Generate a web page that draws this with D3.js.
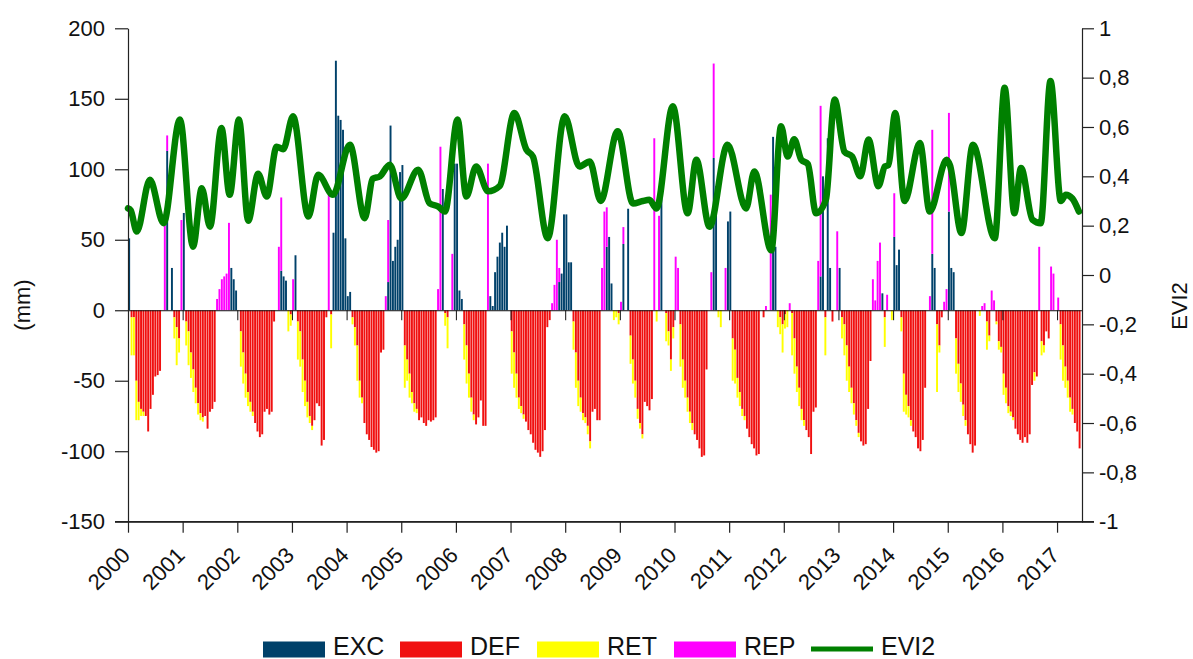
<!DOCTYPE html>
<html><head><meta charset="utf-8">
<script src="https://cdn.jsdelivr.net/npm/d3@7"></script>
<style>
body{margin:0;background:#fff}
svg{display:block}
text{font-family:"Liberation Sans",Arial,sans-serif;fill:#111}
</style>
</head><body>
<svg id="c" width="1193" height="659"></svg>
<script>
// ---------- data (16-day periods, 23 per year, from 2000) ----------
const years = [2000,2001,2002,2003,2004,2005,2006,2007,2008,2009,2010,2011,2012,2013,2014,2015,2016,2017];
const leftTicks = [-150,-100,-50,0,50,100,150,200];
const rightTicks = [-1,-0.8,-0.6,-0.4,-0.2,0,0.2,0.4,0.6,0.8,1];
const periodsPerYear = 23;

const EXC = [
 51, 0,0,0,0,0, 0,0,0,0,0, 0,0,0,0,0, 113,0,30,0,0, 0,0,
 69, 0,0,0,0,0, 0,0,0,0,0, 0,0,0,0,0, 0,0,0,0,30, 22,14,
 0, 0,0,0,0,0, 0,0,0,0,0, 0,0,0,0,0, 0,0,28,24,21, 0,0,
 0, 39,0,0,0,0, 0,0,0,0,0, 0,0,0,0,0, 0,55,177,138,135, 128,51,
 10, 13,0,0,0,0, 0,0,0,0,0, 0,0,0,0,0, 0,20,131,35,45, 50,98,
 103, 0,0,0,0,0, 0,0,0,0,0, 0,0,0,0,0, 0,86,0,0,0, 0,104,
 104, 14,8,0,0,0, 0,0,0,0,0, 0,0,0,10,3, 27,38,48,55,45, 60,0,
 0, 0,0,0,0,0, 0,0,0,0,0, 0,0,0,0,0, 0,0,0,0,20, 26,68,
 68, 34,34,0,0,0, 0,0,0,0,0, 0,0,0,0,0, 0,45,52,19,0, 0,0,
 0, 47,0,72,0,0, 0,0,0,0,0, 0,0,0,0,0, 0,83,0,0,0, 0,0,
 0, 0,0,0,0,0, 0,0,0,0,0, 0,0,0,0,0, 108,88,0,0,0, 0,63,
 70, 0,0,0,0,0, 0,0,0,0,0, 0,0,0,0,0, 0,0,123,45,0, 0,0,
 0, 0,0,0,0,0, 0,0,0,0,0, 0,0,0,0,24, 95,0,122,30,0, 0,0,
 30, 0,0,0,0,0, 0,0,0,0,0, 0,0,0,0,0, 0,0,12,0,0, 0,0,
 52, 32,43,0,0,0, 0,0,0,0,0, 0,0,0,0,0, 40,30,0,0,0, 0,0,
 70, 30,27,0,0,0, 0,0,0,0,0, 0,0,0,0,0, 0,0,0,0,0, 0,0,
 0, 0,0,0,0,0, 0,0,0,0,0, 0,0,0,0,0, 0,0,0,0,0, 0,0,
 0, 0,0,0,0,0, 0,0,0,0
];
const REP = [
 0, 0,0,0,0,0, 0,0,0,0,0, 0,0,0,0,60, 11,0,0,0,0, 0,64,
 0, 0,0,0,0,0, 0,0,0,0,0, 0,0,0,8,15, 22,24,26,62,0, 0,0,
 0, 0,0,0,0,0, 0,0,0,0,0, 0,0,0,0,0, 0,45,52,0,0, 0,0,
 22, 0,0,0,0,0, 0,0,0,0,0, 0,0,0,0,85, 0,0,0,0,0, 0,0,
 0, 0,0,0,0,0, 0,0,0,0,0, 0,0,0,0,0, 10,44,0,0,0, 0,0,
 0, 0,0,0,0,0, 0,0,0,0,0, 0,0,0,0,15, 116,0,0,0,0, 40,0,
 0, 0,0,0,0,0, 0,0,0,0,0, 0,0,104,0,0, 0,0,0,0,0, 0,0,
 0, 0,0,0,0,0, 0,0,0,0,0, 0,0,0,0,0, 0,5,18,50,10, 0,0,
 0, 0,0,0,0,0, 0,0,0,0,0, 0,0,0,0,30, 70,28,0,0,0, 0,0,
 6, 12,0,0,0,0, 0,0,0,0,0, 0,0,0,122,0, 67,0,0,0,0, 0,0,
 38, 30,0,0,0,0, 0,0,0,0,0, 0,0,0,0,27, 67,0,0,0,0, 30,0,
 0, 0,0,0,0,0, 0,0,0,0,0, 0,0,0,0,3, 0,82,0,0,0, 0,0,
 0, 0,5,0,0,0, 0,0,0,0,0, 0,0,0,35,121, 0,0,0,0,0, 0,56,
 0, 0,0,0,0,0, 0,0,0,0,0, 0,0,0,22,7, 35,48,0,0,11, 0,0,
 31, 0,0,0,0,0, 0,0,0,0,0, 0,0,0,0,10, 88,0,0,0,0, 6,15,
 70, 0,0,0,0,0, 0,0,0,0,0, 0,0,0,3,5, 0,0,14,7,0, 0,0,
 0, 0,0,0,0,0, 0,0,0,0,0, 0,0,0,0,45, 0,0,0,0,31, 26,0,
 9, 0,0,0,0,0, 0,0,0,0
];
const DEF = [
 0, -5,-5,-50,-65,-70, -72,-75,-86,-70,-60, -47,-46,-43,0,0, 0,0,0,-5,-12, -20,0,
 0, -8,-15,-30,-42,-55, -66,-73,-76,-75,-84, -72,-70,-65,0,0, 0,0,0,0,0, 0,0,
 0, -15,-30,-45,-58,-65, -72,-80,-86,-90,-88, -72,-70,-74,-72,-8, 0,0,0,0,0, 0,-3,
 0, 0,-8,-15,-35,-50, -65,-75,-82,-78,-66, -68,-96,-92,-5,0, -3,0,0,0,0, 0,0,
 0, 0,-5,-12,-25,-50, -62,-80,-88,-92,-97, -99,-101,-100,-30,-28, 0,0,0,0,0, 0,0,
 0, -25,-35,-45,-58,-66, -70,-78,-76,-80,-82, -78,-79,-78,-76,0, 0,0,-2,-5,0, 0,0,
 0, 0,0,-10,-25,-45, -62,-74,-81,-76,-64, -82,-82,0,0,0, 0,0,0,0,0, 0,0,
 -15, -30,-45,-62,-68,-74, -79,-85,-88,-94,-99, -101,-104,-100,-85,-12, -7,0,0,0,0, 0,0,
 0, 0,0,-8,-30,-50, -62,-73,-76,-82,-93, -72,-70,-78,-78,0, 0,0,0,0,0, 0,-2,
 0, 0,0,0,-18,-35, -50,-70,-80,-88,-65, -68,-71,-63,0,0, 0,0,0,-2,-15, -35,-12,
 0, 0,-10,-35,-50,-62, -72,-80,-88,-92,-98, -104,-103,-42,0,0, 0,0,0,0,0, 0,0,
 0, -20,-28,-48,-58,-70, -75,-84,-90,-95,-98, -103,-102,0,-5,0, 0,0,0,0,0, -5,-10,
 -3, 0,0,-2,-20,-40, -55,-70,-78,-85,-90, -102,-72,-69,0,0, 0,-5,0,0,-8, 0,0,
 0, -5,-10,-25,-40,-55, -66,-78,-87,-93,-96, -95,-70,-36,0,0, 0,0,0,-5,0, 0,0,
 0, 0,0,-5,-45,-60, -68,-78,-86,-90,-98, -100,-92,-55,0,0, 0,0,-10,-25,-5, 0,0,
 0, 0,0,-20,-38,-52, -67,-78,-88,-95,-101, -96,0,0,0,0, -8,-18,0,0,-8, -22,-26,
 -45, -55,-68,-72,-76,-84, -88,-92,-94,-90,-94, -88,-53,-44,-47,0, -22,-25,-15,-20,0, 0,0,
 0, -10,-25,-40,-50,-62, -70,-80,-86,-98
];
const RET = [
 0, -27,-27,-28,-13,-5, -3,0,0,0,0, 0,0,0,0,0, 0,0,0,-15,-27, -10,0,
 0, -17,-24,-18,-16,-11, -8,-5,-3,0,0, 0,0,0,0,0, 0,0,0,0,0, 0,0,
 0, -25,-22,-17,-10,-7, -3,0,0,0,0, 0,0,0,0,0, 0,0,0,0,0, -15,-8,
 0, 0,-27,-25,-23,-18, -11,-5,-3,0,0, 0,0,0,0,0, -24,0,0,0,0, 0,0,
 0, 0,-5,-13,-25,-12, -4,0,0,0,0, 0,0,0,0,0, 0,0,0,0,0, 0,0,
 0, -30,-15,-17,-8,-6, -3,0,0,0,0, 0,0,0,0,0, 0,0,-9,-22,0, 0,0,
 0, 0,0,-25,-27,-17, -10,-4,0,0,0, 0,0,0,0,0, 0,0,0,0,0, 0,0,
 -30, -25,-17,-8,-5,-3, 0,0,0,0,0, 0,0,0,0,0, 0,0,0,0,0, 0,0,
 0, 0,0,-20,-25,-18, -10,-5,-4,-6,-5, 0,0,0,0,0, 0,0,0,0,-7, -5,-8,
 0, 0,0,0,-20,-17, -12,-7,-4,-3,0, 0,0,0,0,-8, 0,0,0,-20,-10, -8,-8,
 0, 0,-30,-20,-12,-10, -8,-5,0,0,0, 0,0,0,0,0, 0,0,-5,-12,0, 0,0,
 0, -30,-24,-14,-10,-5, -3,0,0,0,0, 0,0,0,0,0, 0,0,0,0,-12, -12,-20,
 -10, -12,0,-30,-25,-18, -13,-8,-4,0,0, 0,0,0,0,0, 0,-27,0,0,0, 0,0,
 0, -15,-22,-25,-18,-11, -8,-4,-3,0,0, 0,0,0,0,0, 0,0,0,-21,0, 0,-7,
 0, 0,0,-10,-27,-14, -8,-4,0,0,0, 0,0,0,0,0, 0,0,-48,-5,0, 0,0,
 0, 0,0,-25,-20,-13, -8,-4,0,0,0, 0,0,-4,0,0, -20,-4,0,0,-2, -6,-4,
 -15, -11,-5,-3,-2,0, 0,0,0,0,0, 0,0,-6,0,0, -10,-5,0,0,0, 0,0,
 0, -25,-25,-15,-12,-10, -4,0,0,0
];
// EVI2 read at its turning points (decimal year, value)
const eviDate = [2000.00,2000.05,2000.16,2000.40,2000.65,2000.95,2001.19,2001.35,2001.50,2001.71,2001.86,2002.03,2002.20,2002.38,2002.54,2002.72,2002.84,2003.02,2003.30,2003.48,2003.75,2004.06,2004.33,2004.48,2004.61,2004.79,2005.00,2005.31,2005.52,2005.67,2005.80,2006.03,2006.19,2006.37,2006.59,2006.80,2007.07,2007.29,2007.41,2007.68,2007.99,2008.26,2008.45,2008.65,2008.96,2009.24,2009.42,2009.54,2009.67,2009.97,2010.24,2010.40,2010.64,2010.97,2011.31,2011.46,2011.77,2011.95,2012.07,2012.19,2012.32,2012.44,2012.59,2012.77,2012.93,2013.11,2013.25,2013.40,2013.55,2013.73,2013.85,2013.91,2014.04,2014.21,2014.49,2014.67,2014.98,2015.04,2015.25,2015.46,2015.86,2016.04,2016.22,2016.34,2016.55,2016.70,2016.88,2017.07,2017.16,2017.28,2017.40];
const eviVal  = [0.27,0.262,0.176,0.386,0.21,0.63,0.115,0.352,0.196,0.596,0.325,0.63,0.22,0.41,0.318,0.52,0.51,0.643,0.237,0.406,0.325,0.528,0.23,0.39,0.40,0.447,0.31,0.427,0.29,0.278,0.257,0.63,0.318,0.44,0.339,0.36,0.657,0.508,0.48,0.149,0.643,0.44,0.46,0.30,0.583,0.29,0.30,0.305,0.27,0.684,0.25,0.467,0.196,0.528,0.27,0.42,0.10,0.603,0.48,0.55,0.467,0.45,0.25,0.305,0.711,0.50,0.48,0.40,0.549,0.36,0.44,0.445,0.657,0.30,0.535,0.257,0.467,0.445,0.17,0.528,0.149,0.759,0.25,0.434,0.224,0.21,0.786,0.30,0.325,0.31,0.257];

const colors = {EXC:"#00416a", REP:"#ff00ff", DEF:"#f01010", RET:"#ffff00", EVI2:"#008000"};
const legendItems = ["EXC","DEF","RET","REP","EVI2"];

// ---------- layout ----------
const L = 128, R = 1082, T = 28.3, B = 521.7;
const svg = d3.select("#c");
const N = EXC.length;
const xs = d3.scaleLinear().domain([0, N + 0.5]).range([L, R]);
const yL = d3.scaleLinear().domain([-150, 200]).range([B, T]);
const yR = d3.scaleLinear().domain([-1, 1]).range([B, T]);
const step = xs(1) - xs(0);

const rows = d3.range(N).map(i => ({i, EXC: EXC[i], REP: REP[i], DEF: DEF[i], RET: RET[i]}));
const stacked = d3.stack().keys(["EXC","REP","DEF","RET"]).offset(d3.stackOffsetDiverging)(rows);

// bars
const gBars = svg.append("g");
stacked.forEach(s => {
  gBars.selectAll(null).data(s.filter(d => d[1] !== d[0])).enter().append("rect")
    .attr("x", d => xs(d.data.i) + 0.2)
    .attr("width", step - 0.45)
    .attr("y", d => yL(Math.max(d[0], d[1])))
    .attr("height", d => Math.abs(yL(d[0]) - yL(d[1])))
    .attr("fill", colors[s.key]);
});

// zero line with year ticks
const yearIdx = years.map(y => (y - 2000) * periodsPerYear);
const zeroAxis = d3.axisBottom(xs).tickValues(yearIdx).tickSize(10).tickSizeOuter(0).tickFormat("");
svg.append("g").attr("transform", `translate(0,${yL(0)})`).call(zeroAxis)
  .call(g => g.selectAll("line,path").attr("stroke", "#111"));

// EVI2 line
const line = d3.line()
  .x((d, k) => xs((eviDate[k] - 2000) * periodsPerYear))
  .y((d, k) => yR(eviVal[k]))
  .curve(d3.curveMonotoneX);
svg.append("path").datum(eviVal).attr("d", line)
  .attr("fill", "none").attr("stroke", colors.EVI2).attr("stroke-width", 6.5)
  .attr("stroke-linejoin", "round").attr("stroke-linecap", "round");

// bottom frame line
svg.append("line").attr("x1", L - 13).attr("x2", R + 12).attr("y1", B).attr("y2", B)
  .attr("stroke", "#222").attr("stroke-width", 1.2);

const fmtL = d => String(d);
const fmtR = d => Number.isInteger(d) ? String(d) : d.toFixed(1).replace(".", ",");

const axL = svg.append("g").attr("transform", `translate(${L},0)`)
  .call(d3.axisLeft(yL).tickValues(leftTicks).tickSize(13).tickSizeOuter(0).tickPadding(10).tickFormat(fmtL));
const axR = svg.append("g").attr("transform", `translate(${R},0)`)
  .call(d3.axisRight(yR).tickValues(rightTicks).tickSize(12).tickSizeOuter(0).tickPadding(5).tickFormat(fmtR));
const axB = svg.append("g").attr("transform", `translate(0,${B})`)
  .call(d3.axisBottom(xs).tickValues(yearIdx).tickSize(11).tickSizeOuter(0).tickFormat((d, k) => years[k]));

[axL, axR, axB].forEach(a => {
  a.selectAll("path,line").attr("stroke", "#222").attr("stroke-width", 1.2);
  a.selectAll("text").attr("font-size", 22).attr("font-family", '"Liberation Sans",Arial,sans-serif').attr("fill", "#111");
});
axB.selectAll("text")
  .attr("text-anchor", "end")
  .attr("dy", null).attr("y", null)
  .attr("transform", "translate(3,35) rotate(-45)");

// axis titles
svg.append("text").attr("transform", "translate(30,305) rotate(-90)")
  .attr("text-anchor", "middle").attr("font-size", 22).text("(mm)");
svg.append("text").attr("transform", "translate(1187,306) rotate(-90)")
  .attr("text-anchor", "middle").attr("font-size", 22).text("EVI2");

// legend
const lg = svg.append("g");
legendItems.forEach((k, j) => {
  const x0 = 263 + j * 137;
  if (k === "EVI2") {
    lg.append("line").attr("x1", x0).attr("x2", x0 + 62).attr("y1", 649).attr("y2", 649)
      .attr("stroke", colors.EVI2).attr("stroke-width", 5);
  } else {
    lg.append("rect").attr("x", x0).attr("y", 641.5).attr("width", 62).attr("height", 16).attr("fill", colors[k]);
  }
  lg.append("text").attr("x", x0 + 70).attr("y", 655).attr("font-size", 25).text(k);
});
</script>
</body></html>
